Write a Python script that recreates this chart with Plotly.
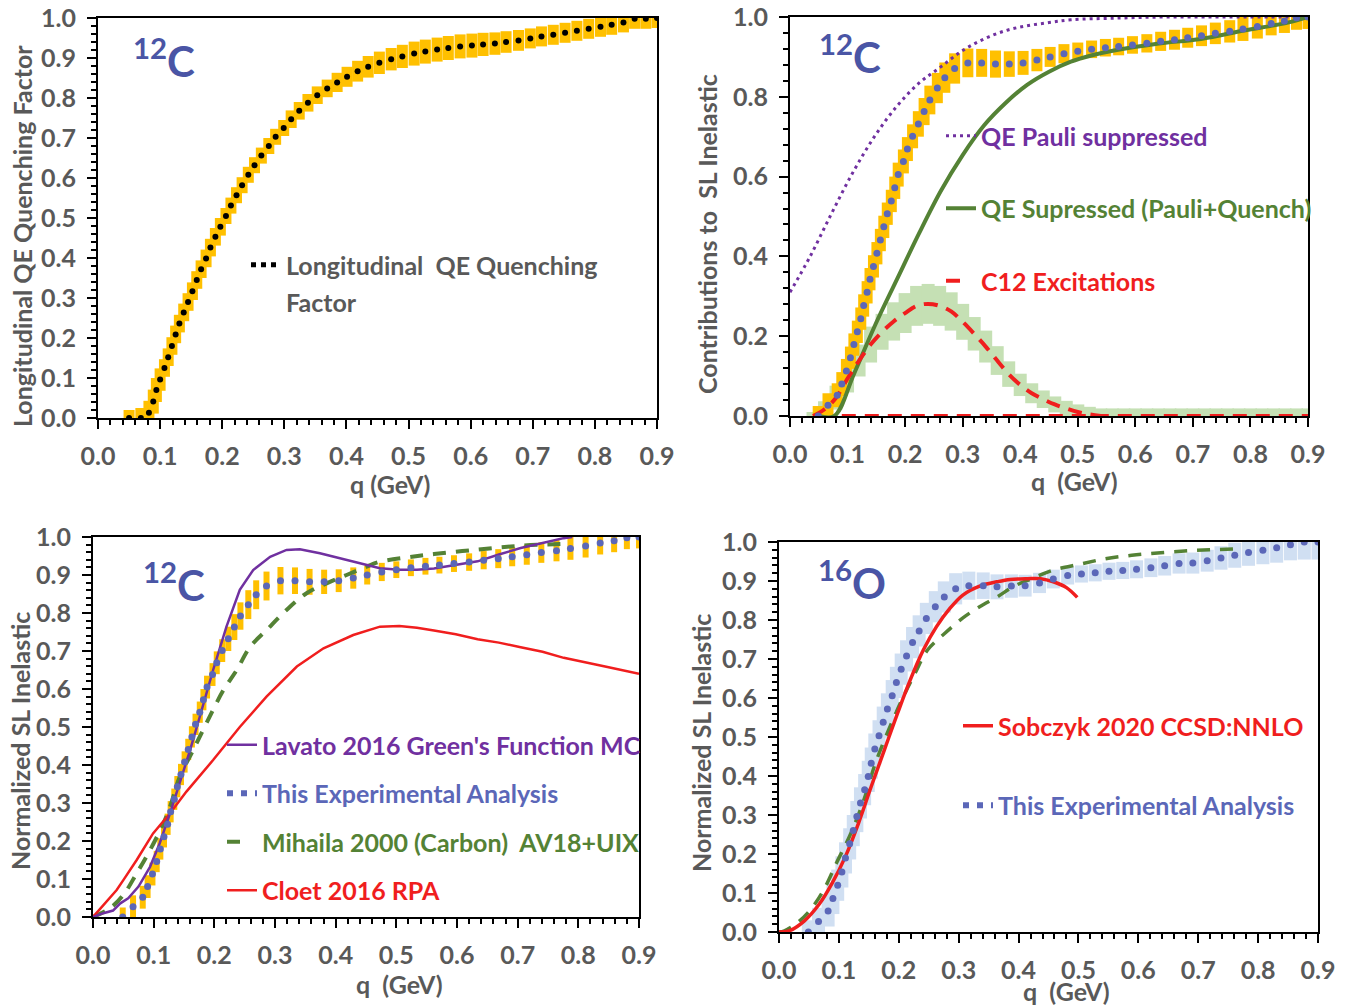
import plotly.graph_objects as go

W, H = 1360, 1006
OFF = 8  # the page body margin shifts the figure by this many pixels
FONT = "Lato, 'Open Sans', 'DejaVu Sans', sans-serif"
GRAY = "#595959"
NUC = "#4a55a5"
YEL = "#ffc000"
LGREEN = "#c5e0b4"
LBLUE = "#d0dff2"
BLUE = "#5b67b8"
PURPLE = "#7030a0"
GREEN = "#548235"
RED = "#f01e1e"

# ---------------- data ----------------
# Panel 1: 12C longitudinal QE quenching factor
qf_q = [0.050, 0.069, 0.082, 0.089, 0.094, 0.100,
        0.107, 0.113, 0.119, 0.125, 0.131, 0.138, 0.145, 0.152, 0.159, 0.166, 0.174, 0.181, 0.189, 0.197,
        0.206, 0.214, 0.223, 0.232, 0.242, 0.252, 0.263, 0.275, 0.286, 0.299,
        0.311, 0.324, 0.338, 0.353, 0.369, 0.385, 0.401, 0.418, 0.435, 0.453,
        0.472, 0.490, 0.509, 0.527, 0.546, 0.564, 0.583, 0.602, 0.620, 0.639, 0.657,
        0.677, 0.696, 0.714, 0.733, 0.752, 0.771, 0.790, 0.809, 0.827, 0.846, 0.864, 0.882, 0.900]
qf_v = [0.000, 0.000, 0.013, 0.041, 0.070, 0.096,
        0.125, 0.152, 0.180, 0.209, 0.236, 0.264, 0.290, 0.317, 0.345, 0.372, 0.399, 0.426, 0.453, 0.478,
        0.505, 0.531, 0.557, 0.582, 0.608, 0.632, 0.656, 0.680, 0.703, 0.725,
        0.747, 0.768, 0.788, 0.807, 0.824, 0.839, 0.853, 0.867, 0.878, 0.888,
        0.897, 0.904, 0.911, 0.916, 0.921, 0.925, 0.929, 0.931, 0.934, 0.936, 0.940,
        0.944, 0.949, 0.954, 0.958, 0.963, 0.968, 0.973, 0.978, 0.983, 0.989, 0.998, 0.998, 1.000]
qf_err = [0.020, 0.025, 0.030, 0.030, 0.030, 0.028,
          0.022, 0.022, 0.022, 0.022, 0.022, 0.022, 0.022, 0.022, 0.022, 0.022, 0.022, 0.022, 0.022, 0.022,
          0.020, 0.020, 0.020, 0.020, 0.020, 0.020, 0.020, 0.020, 0.020, 0.020,
          0.022, 0.022, 0.022, 0.022, 0.022, 0.024, 0.025, 0.026, 0.027, 0.028,
          0.028, 0.029, 0.030, 0.030, 0.030, 0.030, 0.030, 0.030, 0.029, 0.028, 0.027,
          0.026, 0.025, 0.025, 0.025, 0.025, 0.025, 0.025, 0.025, 0.025, 0.025, 0.025, 0.025, 0.025]

# 12C normalized SL inelastic (this experimental analysis)
c12_q = [0.049, 0.066, 0.082, 0.090, 0.098, 0.105, 0.111, 0.117, 0.123, 0.128,
         0.134, 0.139, 0.145, 0.151, 0.157, 0.163, 0.169, 0.176, 0.182, 0.188,
         0.197, 0.204, 0.213, 0.223, 0.233, 0.243, 0.256, 0.269, 0.286, 0.309,
         0.333, 0.357, 0.381, 0.405, 0.429, 0.452, 0.476, 0.500, 0.524, 0.548,
         0.571, 0.595, 0.620, 0.644, 0.668, 0.691, 0.715, 0.739, 0.764, 0.787,
         0.812, 0.836, 0.859, 0.880, 0.900]
c12_v = [0.000, 0.027, 0.052, 0.080, 0.113, 0.146, 0.179, 0.211, 0.244, 0.277,
         0.310, 0.343, 0.375, 0.408, 0.441, 0.474, 0.507, 0.539, 0.572, 0.605,
         0.638, 0.669, 0.701, 0.732, 0.763, 0.792, 0.822, 0.848, 0.871, 0.885,
         0.885, 0.882, 0.882, 0.885, 0.892, 0.900, 0.908, 0.914, 0.919, 0.923,
         0.926, 0.930, 0.934, 0.939, 0.943, 0.948, 0.953, 0.959, 0.964, 0.970,
         0.976, 0.984, 0.990, 0.998, 1.000]
c12_err = [0.025, 0.030, 0.030, 0.030, 0.030, 0.028, 0.028, 0.028, 0.028, 0.028,
           0.028, 0.028, 0.028, 0.028, 0.028, 0.028, 0.028, 0.028, 0.028, 0.030,
           0.030, 0.030, 0.030, 0.032, 0.034, 0.036, 0.038, 0.038, 0.038, 0.036,
           0.035, 0.034, 0.032, 0.030, 0.028, 0.025, 0.024, 0.022, 0.022, 0.022,
           0.022, 0.022, 0.023, 0.024, 0.025, 0.025, 0.026, 0.027, 0.028, 0.030,
           0.030, 0.030, 0.030, 0.030, 0.030]

# Panel 2 model contributions
pauli_q = [0.000, 0.035, 0.073, 0.111, 0.148, 0.186, 0.224, 0.262, 0.300, 0.337, 0.375,
           0.412, 0.450, 0.488, 0.563, 0.650, 0.750, 0.900]
pauli_v = [0.310, 0.400, 0.510, 0.615, 0.703, 0.777, 0.834, 0.875, 0.916, 0.945, 0.966,
           0.978, 0.986, 0.993, 0.997, 1.000, 1.000, 1.000]

qes_q = [0.050, 0.077, 0.111, 0.148, 0.186, 0.224, 0.262, 0.300, 0.337, 0.375, 0.412,
         0.450, 0.488, 0.525, 0.563, 0.638, 0.714, 0.789, 0.865, 0.900]
qes_v = [0.000, 0.000, 0.105, 0.228, 0.343, 0.457, 0.564, 0.654, 0.728, 0.785, 0.830,
         0.863, 0.888, 0.904, 0.916, 0.933, 0.945, 0.966, 0.986, 1.000]

exc_q = [0.04, 0.06, 0.08, 0.10, 0.12, 0.14, 0.16, 0.18, 0.20, 0.22, 0.24, 0.26, 0.28, 0.30,
         0.32, 0.34, 0.36, 0.38, 0.40, 0.42, 0.44, 0.46, 0.48, 0.50, 0.52, 0.54,
         0.56, 0.58, 0.60, 0.62, 0.64, 0.66, 0.68, 0.70, 0.72, 0.74, 0.76, 0.78, 0.80,
         0.82, 0.84, 0.86, 0.88, 0.90]
exc_v = [0.000, 0.017, 0.046, 0.094, 0.139, 0.179, 0.211, 0.237, 0.258, 0.276, 0.281, 0.276, 0.262, 0.236,
         0.206, 0.174, 0.139, 0.105, 0.078, 0.057, 0.042, 0.029, 0.019, 0.010, 0.004, 0.000,
         0.000, 0.000, 0.000, 0.000, 0.000, 0.000, 0.000, 0.000, 0.000, 0.000, 0.000, 0.000, 0.000,
         0.000, 0.000, 0.000, 0.000, 0.000]
exc_err = [0.010, 0.020, 0.030, 0.035, 0.040, 0.045, 0.045, 0.048, 0.050, 0.050, 0.050, 0.050, 0.048, 0.045,
           0.042, 0.040, 0.036, 0.032, 0.028, 0.025, 0.022, 0.020, 0.019, 0.019, 0.019, 0.019,
           0.019, 0.019, 0.019, 0.019, 0.019, 0.019, 0.019, 0.019, 0.019, 0.019, 0.019, 0.019, 0.019,
           0.019, 0.019, 0.019, 0.019, 0.019]
exc_line_n = 26  # the dashed curve ends where it reaches zero (q = 0.54)
base_q = [0.09, 0.90]
base_v = [0.0, 0.0]

# Panel 3 theory curves
lav_q = [0.000, 0.017, 0.033, 0.045, 0.058, 0.075, 0.094, 0.110, 0.127, 0.143, 0.160, 0.176,
         0.198, 0.220, 0.242, 0.264, 0.292, 0.319, 0.341, 0.374, 0.407, 0.435, 0.462, 0.473,
         0.505, 0.534, 0.562, 0.598, 0.634, 0.669, 0.705, 0.741, 0.776, 0.790]
lav_v = [0.000, 0.010, 0.017, 0.036, 0.049, 0.080, 0.132, 0.194, 0.273, 0.352, 0.439, 0.527,
         0.650, 0.764, 0.861, 0.913, 0.948, 0.966, 0.968, 0.957, 0.944, 0.931, 0.922, 0.918,
         0.914, 0.914, 0.917, 0.927, 0.936, 0.954, 0.971, 0.984, 0.997, 1.000]

mih_q = [0.000, 0.028, 0.050, 0.072, 0.094, 0.116, 0.127, 0.143, 0.165, 0.187, 0.215, 0.237,
         0.259, 0.286, 0.319, 0.352, 0.385, 0.418, 0.451, 0.473, 0.526, 0.562, 0.634, 0.705, 0.776]
mih_v = [0.000, 0.023, 0.058, 0.115, 0.176, 0.246, 0.290, 0.369, 0.439, 0.510, 0.597, 0.650,
         0.711, 0.755, 0.808, 0.852, 0.878, 0.900, 0.922, 0.935, 0.948, 0.955, 0.967, 0.977, 0.982]

clo_q = [0.000, 0.019, 0.039, 0.050, 0.072, 0.099, 0.127, 0.154, 0.198, 0.242, 0.286, 0.336,
         0.380, 0.429, 0.473, 0.505, 0.534, 0.562, 0.598, 0.634, 0.669, 0.705, 0.741, 0.776,
         0.812, 0.848, 0.900]
clo_v = [0.000, 0.035, 0.071, 0.097, 0.150, 0.220, 0.273, 0.330, 0.413, 0.500, 0.580, 0.659,
         0.707, 0.742, 0.764, 0.766, 0.761, 0.754, 0.744, 0.731, 0.722, 0.710, 0.698, 0.682,
         0.669, 0.658, 0.640]

# Panel 4: 16O
o16_q = [0.049, 0.066, 0.082, 0.090, 0.098, 0.105, 0.111, 0.118, 0.124, 0.130,
         0.136, 0.143, 0.149, 0.154, 0.160, 0.167, 0.174, 0.181, 0.189, 0.196,
         0.204, 0.213, 0.223, 0.234, 0.246, 0.261, 0.276, 0.295, 0.317, 0.341,
         0.364, 0.388, 0.411, 0.435, 0.458, 0.482, 0.505, 0.528, 0.551, 0.574,
         0.597, 0.621, 0.644, 0.668, 0.691, 0.715, 0.738, 0.761, 0.784, 0.808,
         0.831, 0.854, 0.877, 0.900]
o16_v = [0.000, 0.027, 0.054, 0.086, 0.120, 0.154, 0.190, 0.226, 0.260, 0.296,
         0.331, 0.365, 0.399, 0.433, 0.469, 0.503, 0.538, 0.572, 0.606, 0.640,
         0.674, 0.708, 0.742, 0.772, 0.804, 0.834, 0.859, 0.880, 0.888, 0.888,
         0.885, 0.887, 0.888, 0.895, 0.905, 0.914, 0.918, 0.921, 0.925, 0.927,
         0.930, 0.934, 0.939, 0.945, 0.946, 0.952, 0.959, 0.966, 0.973, 0.979,
         0.985, 0.993, 1.000, 1.000]
o16_err = [0.030, 0.035, 0.040, 0.040, 0.040, 0.040, 0.040, 0.040, 0.040, 0.040,
           0.040, 0.040, 0.040, 0.040, 0.040, 0.040, 0.040, 0.040, 0.040, 0.040,
           0.040, 0.040, 0.040, 0.040, 0.040, 0.040, 0.040, 0.040, 0.036, 0.034,
           0.032, 0.030, 0.028, 0.026, 0.024, 0.023, 0.022, 0.022, 0.022, 0.022,
           0.023, 0.024, 0.025, 0.026, 0.027, 0.028, 0.030, 0.032, 0.034, 0.036,
           0.038, 0.040, 0.045, 0.045]

sob_q = [0.000, 0.017, 0.042, 0.067, 0.089, 0.111, 0.133, 0.154, 0.176, 0.198, 0.219, 0.241,
         0.263, 0.285, 0.307, 0.335, 0.364, 0.386, 0.415, 0.437, 0.458, 0.480, 0.498]
sob_v = [0.000, 0.003, 0.028, 0.071, 0.126, 0.194, 0.280, 0.373, 0.467, 0.561, 0.646, 0.723,
         0.783, 0.829, 0.864, 0.887, 0.898, 0.904, 0.906, 0.906, 0.898, 0.883, 0.858]

mihO_q = [0.000, 0.009, 0.031, 0.053, 0.075, 0.096, 0.118, 0.140, 0.161, 0.183, 0.205, 0.227, 0.248,
          0.277, 0.306, 0.335, 0.364, 0.393, 0.422, 0.458, 0.502, 0.545, 0.589, 0.632, 0.677,
          0.719, 0.770]
mihO_v = [0.000, 0.003, 0.024, 0.058, 0.109, 0.177, 0.246, 0.331, 0.433, 0.518, 0.595, 0.663, 0.723,
          0.766, 0.804, 0.834, 0.859, 0.887, 0.906, 0.928, 0.943, 0.957, 0.966, 0.972, 0.977,
          0.980, 0.983]

x_ticks = [0.0, 0.1, 0.2, 0.3, 0.4, 0.5, 0.6, 0.7, 0.8, 0.9]

# ---------------- layout geometry (screen pixels) ----------------
PANELS = {
    1: dict(x=(98, 657), y=(18, 418)),
    2: dict(x=(790, 1308), y=(17, 416)),
    3: dict(x=(93, 639), y=(537, 917)),
    4: dict(x=(779, 1318), y=(542, 932)),
}


def px(xp):
    return (xp - OFF) / W


def py(yp):
    return 1 - (yp - OFF) / H


fig = go.Figure()


def ax(n):
    return ("x" if n == 1 else f"x{n}"), ("y" if n == 1 else f"y{n}")


def band(n, q, v, err, color, thick):
    xa, ya = ax(n)
    fig.add_trace(go.Scatter(x=q, y=v, xaxis=xa, yaxis=ya, mode="markers",
                             marker=dict(size=1, opacity=0), showlegend=False, hoverinfo="skip",
                             error_y=dict(type="data", array=err, visible=True, color=color,
                                          thickness=thick, width=0)))


def line(n, q, v, color, width, dash="solid", name=None, legend=None, shape="spline"):
    xa, ya = ax(n)
    fig.add_trace(go.Scatter(x=q, y=v, xaxis=xa, yaxis=ya, mode="lines",
                             line=dict(color=color, width=width, dash=dash, shape=shape),
                             name=name if name else "", showlegend=name is not None,
                             legend=legend, legendgroup=name, hoverinfo="skip"))


def dots(n, q, v, color, size):
    xa, ya = ax(n)
    fig.add_trace(go.Scatter(x=q, y=v, xaxis=xa, yaxis=ya, mode="markers",
                             marker=dict(size=size, color=color), showlegend=False, hoverinfo="skip"))


def legend_proxy(n, color, width, dash, name, legend):
    xa, ya = ax(n)
    fig.add_trace(go.Scatter(x=[None], y=[None], xaxis=xa, yaxis=ya, mode="lines",
                             line=dict(color=color, width=width, dash=dash),
                             name=name, legend=legend, legendgroup=name, showlegend=True))


def span(text, color):
    return f'<span style="color:{color}">{text}</span>'


# Panel 1
band(1, qf_q, qf_v, qf_err, YEL, 11)
dots(1, qf_q, qf_v, "black", 6)
legend_proxy(1, "black", 5, "5px,5px", "Longitudinal\u00a0\u00a0QE Quenching", "legend")

# Panel 2
band(2, exc_q, exc_v, exc_err, LGREEN, 13)
band(2, c12_q, c12_v, c12_err, YEL, 11)
line(2, pauli_q, pauli_v, PURPLE, 3, "3px,4px", span("QE Pauli suppressed", PURPLE), "legend2")
line(2, qes_q, qes_v, GREEN, 4, "solid", span("QE Supressed (Pauli+Quench)", GREEN), "legend2")
line(2, exc_q[:exc_line_n], exc_v[:exc_line_n], RED, 4, "14px,9px")
legend_proxy(2, RED, 4, "14px,30px", span("C12 Excitations", RED), "legend2")
line(2, base_q, base_v, RED, 4, "14px,9px", shape="linear")
dots(2, c12_q, c12_v, BLUE, 7)

# Panel 3
band(3, c12_q, c12_v, c12_err, YEL, 6)
line(3, mih_q, mih_v, GREEN, 4, "13px,10px", None)
line(3, clo_q, clo_v, RED, 2.5, "solid", None, shape="linear")
line(3, lav_q, lav_v, PURPLE, 2.5, "solid", span("Lavato 2016 Green's Function MC", PURPLE), "legend3",
     shape="linear")
dots(3, c12_q, c12_v, BLUE, 7)
legend_proxy(3, BLUE, 6, "6px,8px", span("This Experimental Analysis", BLUE), "legend3")
legend_proxy(3, GREEN, 4, "13px,30px", span("Mihaila 2000 (Carbon)\u00a0\u00a0AV18+UIX", GREEN), "legend3")
legend_proxy(3, RED, 2.5, "solid", span("Cloet 2016 RPA", RED), "legend3")

# Panel 4
band(4, o16_q, o16_v, o16_err, LBLUE, 13)
line(4, mihO_q, mihO_v, GREEN, 3.5, "13px,10px", None)
line(4, sob_q, sob_v, RED, 3.5, "solid", span("Sobczyk 2020 CCSD:NNLO", RED), "legend4")
dots(4, o16_q, o16_v, BLUE, 7)
legend_proxy(4, BLUE, 6, "6px,8px", span("This Experimental Analysis", BLUE), "legend4")

# ---------------- axes ----------------
FS = 25
tickfont = dict(family=FONT, size=FS, color=GRAY, weight="bold")
layout_axes = {}
for n, p in PANELS.items():
    xa = "xaxis" if n == 1 else f"xaxis{n}"
    ya = "yaxis" if n == 1 else f"yaxis{n}"
    xr, yr = ax(n)
    ydt = 0.2 if n == 2 else 0.1
    ymin = 0.04 if n == 2 else 0.02
    layout_axes[xa] = dict(
        domain=[px(p["x"][0]), px(p["x"][1])], range=[0, 0.9], anchor=yr, automargin=False,
        tickmode="array", tickvals=x_ticks, tickformat=".1f", ticklabeloverflow="allow",
        ticks="outside", ticklen=9, tickwidth=2, tickcolor="black",
        showline=True, linewidth=2, linecolor="black", mirror=True,
        showgrid=False, zeroline=False, tickfont=tickfont, ticklabelstandoff=6,
        minor=dict(dtick=0.02, tick0=0, ticks="outside", ticklen=5, tickwidth=1.5, tickcolor="black"),
    )
    layout_axes[ya] = dict(
        domain=[py(p["y"][1]), py(p["y"][0])], range=[0, 1.0], anchor=xr, automargin=False,
        dtick=ydt, tick0=0, tickformat=".1f", ticklabeloverflow="allow",
        ticks="outside", ticklen=9, tickwidth=2, tickcolor="black",
        showline=True, linewidth=2, linecolor="black", mirror=True,
        showgrid=False, zeroline=False, tickfont=tickfont, ticklabelstandoff=6,
        minor=dict(dtick=ymin, tick0=0, ticks="outside", ticklen=5, tickwidth=1.5, tickcolor="black"),
    )

# ---------------- annotations ----------------
tfont = dict(family=FONT, size=FS, color=GRAY, weight="bold")
nfont = dict(family=FONT, size=42, color=NUC, weight="bold")
annotations = []


def note(text, x, y, font, angle=0, xanchor="center"):
    annotations.append(dict(text=text, x=px(x), y=py(y), xref="paper", yref="paper",
                            xanchor=xanchor, yanchor="middle", showarrow=False,
                            font=font, textangle=angle))


note("Longitudinal QE Quenching Factor", 22, 236, tfont, -90)
note("q (GeV)", 390, 484, tfont)
note("Contributions to\u00a0\u00a0SL Inelastic", 707, 234, tfont, -90)
note("q\u00a0\u00a0(GeV)", 1074, 481, tfont)
note("Normalized SL Inelastic", 20, 741, tfont, -90)
note("q\u00a0\u00a0(GeV)", 400, 984, tfont)
note("Normalized SL Inelastic", 701, 743, tfont, -90)
note("q\u00a0\u00a0(GeV)", 1066, 991, tfont)
note("Factor", 284, 302, tfont, xanchor="left")
note("<sup>12</sup>C", 164, 58, nfont)
note("<sup>12</sup>C", 850, 54, nfont)
note("<sup>12</sup>C", 174, 582, nfont)
note("<sup>16</sup>O", 852, 580, nfont)

# ---------------- legends ----------------
lfont = dict(family=FONT, size=FS, color=GRAY, weight="bold")


def leg(x, ytop, gap):
    return dict(x=px(x), y=py(ytop), xanchor="left", yanchor="top", bgcolor="rgba(0,0,0,0)",
                borderwidth=0, font=lfont, itemwidth=30, traceorder="grouped",
                tracegroupgap=gap, valign="top", itemclick=False, itemdoubleclick=False)


fig.update_layout(
    width=W, height=H, autosize=False,
    margin=dict(l=0, r=0, t=0, b=0, autoexpand=False),
    paper_bgcolor="white", plot_bgcolor="white",
    font=dict(family=FONT, color=GRAY),
    annotations=annotations,
    legend=leg(246, 242, 10),
    legend2=leg(941, 113, 37),
    legend3=leg(222, 722, 13),
    legend4=leg(958, 703, 44),
    hovermode=False,
    **layout_axes,
)

fig.write_html("out.html")
